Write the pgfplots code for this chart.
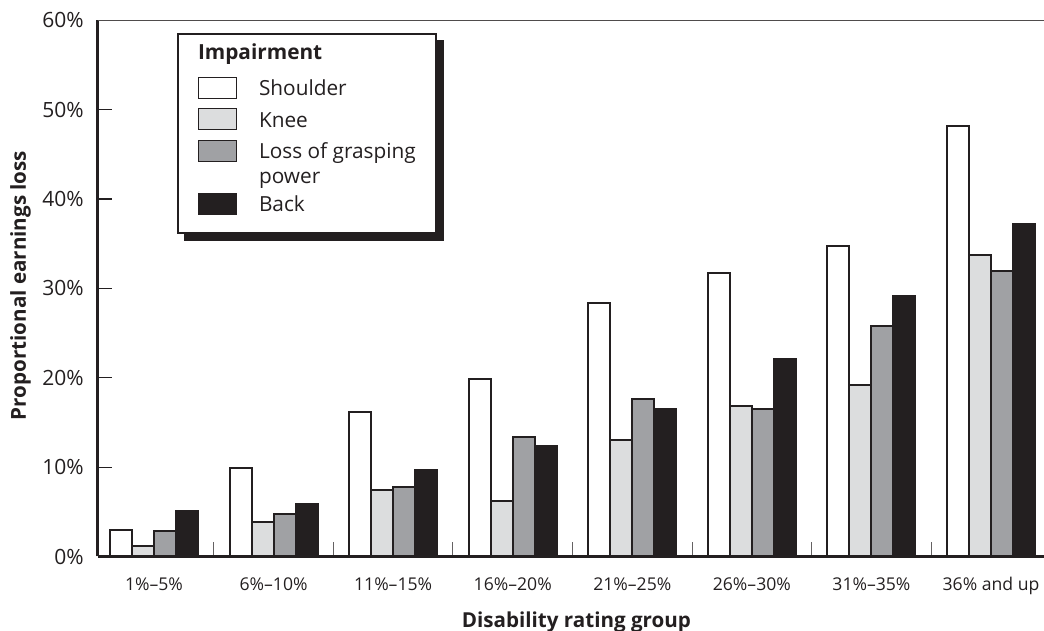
\documentclass[border=0pt]{standalone}
\usepackage{pgfplots}
\pgfplotsset{compat=1.18}
\usepackage{fontspec}
\setmainfont{Open Sans}
\definecolor{dk}{HTML}{231F20}
\definecolor{lg}{HTML}{DCDDDE}
\definecolor{mg}{HTML}{A0A1A4}
\pgfdeclarelayer{background}
\pgfsetlayers{background,main}
\pgfplotsset{mylegend/.style={legend image code/.code={\draw[##1,line width=0.5pt] (0.25pt,-1.35pt) rectangle (19.25pt,9.15pt);}}}
\begin{document}
\begin{tikzpicture}
\path[use as bounding box] (0,0) rectangle (522pt,315.5pt);
\begin{axis}[
  at={(48.75pt,37.25pt)}, anchor=south west,
  scale only axis, width=473.25pt, height=268.1pt,
  xmin=-0.4724, xmax=7.443, ymin=0, ymax=60,
  clip=false,
  ybar=0pt, bar width=11pt,
  axis x line*=bottom, axis y line*=left,
  x axis line style={-, line width=1.5pt, draw=dk},
  y axis line style={-, line width=1.5pt, draw=dk},
  xtick={0.5,1.5,...,6.5},
  xticklabels={{},{},{},{},{},{},{}},
  extra x ticks={0,1,2,3,4,5,6,7},
  extra x tick labels={1\%–5\%,6\%–10\%,11\%–15\%,16\%–20\%,21\%–25\%,26\%–30\%,31\%–35\%,36\% and up},
  extra x tick style={major tick length=0pt},
  ytick={0,10,...,60},
  yticklabels={0\%,10\%,20\%,30\%,40\%,50\%,60\%},
  tick align=inside,
  major tick length=7pt,
  xtick style={line width=0.5pt, color=dk!70},
  ytick style={line width=0.6pt, color=dk},
  xticklabel style={font=\fontsize{8.8}{10}\selectfont, text=dk, anchor=base, yshift=-17.1pt},
  yticklabel style={font=\fontsize{10.5}{12}\selectfont, text=dk, anchor=east, inner sep=0pt, xshift=-6.75pt},
  xlabel={Disability rating group},
  ylabel={Proportional earnings loss},
  xlabel style={at={(axis description cs:0.506,-0.1315)}, anchor=base, font=\bfseries\fontsize{10.3}{12}\selectfont, text=dk},
  ylabel style={at={(axis description cs:-0.0814,0.5054)}, anchor=center, font=\bfseries\fontsize{10.3}{12}\selectfont, text=dk},
  legend cell align=left,
  legend style={name=leg, at={(axis description cs:0.084,0.9763)}, anchor=north west,
    draw=dk, line width=1pt, fill=white,
    inner xsep=10pt, inner ysep=4.7pt, row sep=3.8pt, column sep=11pt,
    font=\fontsize{10.4}{12.5}\selectfont, text=dk,
    cells={anchor=base west},
    nodes={inner sep=0pt, text height=8pt, text depth=2.5pt}},
]
\addlegendimage{empty legend}
\addlegendentry[text depth=5pt]{\hspace*{-30.5pt}\textbf{Impairment}}
\addplot[fill=white, draw=dk, line width=1pt, mylegend] coordinates {
 (0,3.0) (1,9.9) (2,16.2) (3,19.9) (4,28.4) (5,31.7) (6,34.7) (7,48.2)};
\addlegendentry{Shoulder}
\addplot[fill=lg, draw=dk, line width=1pt, mylegend] coordinates {
 (0,1.2) (1,3.9) (2,7.4) (3,6.2) (4,13.0) (5,16.8) (6,19.2) (7,33.7)};
\addlegendentry{Knee}
\addplot[fill=mg, draw=dk, line width=1pt, mylegend] coordinates {
 (0,2.85) (1,4.8) (2,7.8) (3,13.4) (4,17.6) (5,16.5) (6,25.8) (7,32.0)};
\addlegendentry[text depth=13.4pt]{\begin{tabular}[t]{@{}l@{}}Loss of grasping\\power\end{tabular}}
\addplot[fill=dk, draw=dk, line width=1pt, mylegend] coordinates {
 (0,5.1) (1,5.9) (2,9.7) (3,12.4) (4,16.5) (5,22.1) (6,29.1) (7,37.2)};
\addlegendentry[text depth=6.1pt]{Back}
\draw[dk!80, line width=0.75pt] (rel axis cs:0,1) -- (rel axis cs:1,1);
\pgfplotsinvokeforeach{10,20,30,40,50}{\draw[dk, line width=0.6pt] (axis cs:-0.4724,#1) -- ([xshift=7pt]axis cs:-0.4724,#1);}
\end{axis}
\begin{pgfonlayer}{background}
\fill[dk] ([xshift=3.5pt,yshift=-3.5pt]leg.south west) rectangle ([xshift=3.5pt,yshift=-3.5pt]leg.north east);
\end{pgfonlayer}
\end{tikzpicture}
\end{document}
